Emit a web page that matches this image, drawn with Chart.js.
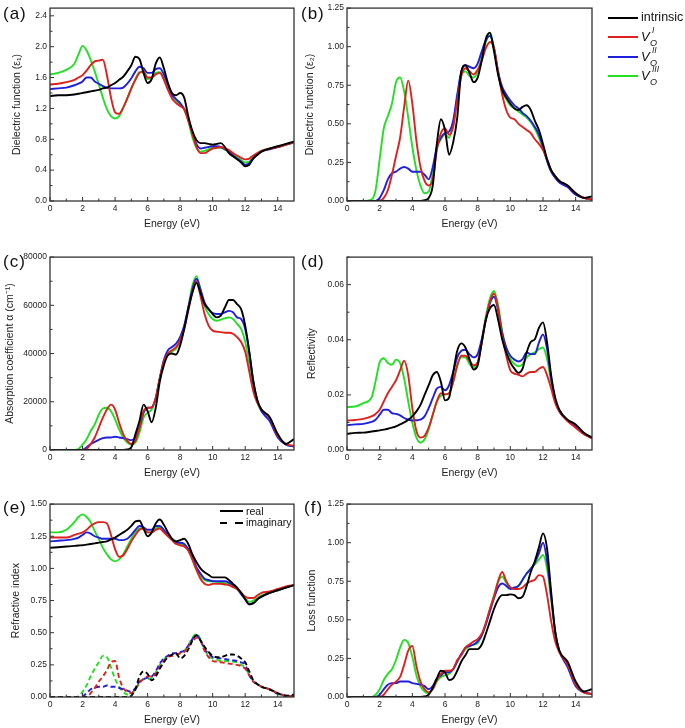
<!DOCTYPE html>
<html>
<head>
<meta charset="utf-8">
<script src="https://cdn.jsdelivr.net/npm/chart.js@4.4.1/dist/chart.umd.min.js"></script>
<style>
  body { margin: 0; background: #fff; font-family: "Liberation Sans", Arial, sans-serif; }
  #wrap { position: relative; width: 685px; height: 728px; overflow: hidden; }
  .pnl { position: absolute; width: 300px; height: 230px; }
  .tag { position: absolute; font-size: 17px; line-height: 20px; color: #111; letter-spacing: 1px; }
  .row { position: absolute; height: 0; }
  .row .ln { position: absolute; left: 0; top: -1px; width: 30px; height: 2px; }
  .row span { position: absolute; line-height: 1; color: #111; white-space: nowrap; }
  .v { font-size: 13px; font-style: italic; }
  .sb { font-size: 9px; font-style: italic; }
  .sp { font-size: 8.5px; font-style: italic; }
</style>
</head>
<body>
<div id="wrap">
  <div class="pnl" style="left:0;top:0"><canvas id="cA" width="300" height="230"></canvas></div>
  <div class="pnl" style="left:300px;top:0"><canvas id="cB" width="300" height="230"></canvas></div>
  <div class="pnl" style="left:0;top:249px"><canvas id="cC" width="300" height="230"></canvas></div>
  <div class="pnl" style="left:300px;top:249px"><canvas id="cD" width="300" height="230"></canvas></div>
  <div class="pnl" style="left:0;top:496px"><canvas id="cE" width="300" height="230"></canvas></div>
  <div class="pnl" style="left:300px;top:496px"><canvas id="cF" width="300" height="230"></canvas></div>

  <div class="tag" style="left:3px;top:4px">(a)</div>
  <div class="tag" style="left:301px;top:4px">(b)</div>
  <div class="tag" style="left:3px;top:252px">(c)</div>
  <div class="tag" style="left:301px;top:252px">(d)</div>
  <div class="tag" style="left:3px;top:498px">(e)</div>
  <div class="tag" style="left:304px;top:498px">(f)</div>

  <!-- legend of the four structures -->
  <div class="row" style="left:608px;top:18px">
    <div class="ln" style="background:#000"></div>
    <span style="left:33px;top:-6.6px;font-size:12.5px">intrinsic</span>
  </div>
  <div class="row" style="left:608px;top:37px">
    <div class="ln" style="background:#e0201c"></div>
    <span class="v" style="left:33px;top:-6.8px">V</span>
    <span class="sp" style="left:44px;top:-11.2px">I</span>
    <span class="sb" style="left:42px;top:2.3px">O</span>
  </div>
  <div class="row" style="left:608px;top:57px">
    <div class="ln" style="background:#1f1fdc"></div>
    <span class="v" style="left:33px;top:-6.8px">V</span>
    <span class="sp" style="left:44px;top:-11.2px">II</span>
    <span class="sb" style="left:42px;top:2.3px">O</span>
  </div>
  <div class="row" style="left:608px;top:76px">
    <div class="ln" style="background:#22e022"></div>
    <span class="v" style="left:33px;top:-6.8px">V</span>
    <span class="sp" style="left:44px;top:-11.2px">III</span>
    <span class="sb" style="left:42px;top:2.3px">O</span>
  </div>

  <!-- legend of panel (e) -->
  <div class="row" style="left:220px;top:511px">
    <div class="ln" style="background:#000;width:23px"></div>
    <span style="left:26px;top:-5px;font-size:10.5px">real</span>
  </div>
  <div class="row" style="left:220px;top:523px">
    <div class="ln" style="background:#000;width:7px"></div>
    <div class="ln" style="background:#000;width:8px;left:15px"></div>
    <span style="left:26px;top:-6px;font-size:10.5px">imaginary</span>
  </div>
</div>

<script>
// energy grid (eV)
const energy = [0, 0.5, 1, 1.5,
  1.75, 2, 2.25, 2.5, 2.75, 3, 3.25, 3.5, 3.75, 4,
  4.25, 4.5, 4.75, 5, 5.25, 5.5, 5.75, 6, 6.25, 6.5,
  6.75, 7, 7.25, 7.5, 7.75, 8, 8.25, 8.5, 8.75, 9,
  9.25, 9.5, 9.75, 10, 10.25, 10.5, 10.75, 11, 11.25, 11.5,
  11.75, 12, 12.25, 12.5, 12.75,
  13, 13.5, 14, 14.5, 15];

const seriesNames = ["intrinsic", "VO I", "VO II", "VO III"];
const seriesColors = ["#000000", "#e0201c", "#1f1fdc", "#22e022"];

// (a) real part of dielectric function
const eps1Intrinsic = [1.36,1.37,1.37,1.38, 1.39,1.40,1.41,1.42,1.43,1.44,1.46,1.47,1.50,1.53, 1.57,1.61,1.68,1.76,1.87,1.84,1.66,1.53,1.58,1.78, 1.86,1.72,1.53,1.40,1.37,1.40,1.34,1.10,0.91,0.79, 0.75,0.75,0.74,0.73,0.74,0.75,0.70,0.62,0.58,0.54, 0.50,0.45,0.47,0.55,0.60, 0.64,0.68,0.71,0.74,0.77];
const eps1VoI = [1.51,1.52,1.54,1.57, 1.60,1.63,1.69,1.76,1.81,1.82,1.83,1.63,1.34,1.15, 1.13,1.21,1.33,1.46,1.57,1.66,1.68,1.60,1.60,1.64, 1.66,1.57,1.44,1.33,1.27,1.23,1.19,1.04,0.87,0.70, 0.62,0.62,0.65,0.68,0.69,0.70,0.68,0.66,0.62,0.59, 0.56,0.54,0.55,0.59,0.62, 0.65,0.68,0.70,0.73,0.76];
const eps1VoII = [1.45,1.46,1.47,1.50, 1.52,1.55,1.60,1.60,1.55,1.52,1.49,1.47,1.46,1.46, 1.46,1.47,1.52,1.59,1.68,1.74,1.72,1.66,1.66,1.71, 1.72,1.64,1.51,1.38,1.32,1.27,1.19,1.06,0.89,0.74, 0.68,0.69,0.70,0.71,0.71,0.70,0.67,0.64,0.59,0.55, 0.51,0.47,0.49,0.56,0.60, 0.64,0.67,0.70,0.73,0.76];
const eps1VoIII = [1.64,1.66,1.70,1.78, 1.90,2.01,1.95,1.83,1.68,1.51,1.34,1.19,1.10,1.07, 1.10,1.21,1.33,1.46,1.58,1.67,1.66,1.58,1.60,1.66, 1.67,1.59,1.46,1.36,1.30,1.25,1.19,1.04,0.83,0.69, 0.64,0.65,0.67,0.69,0.69,0.69,0.67,0.64,0.60,0.57, 0.53,0.50,0.51,0.57,0.61, 0.65,0.68,0.70,0.73,0.76];

// (b) imaginary part of dielectric function
const eps2Intrinsic = [0,0,0,0, 0,0,0,0,0,0,0,0,0,0, 0,0,0.005,0.02,0.10,0.37,0.53,0.46,0.30,0.38, 0.54,0.84,0.88,0.83,0.77,0.80,0.91,1.05,1.09,0.97, 0.82,0.72,0.67,0.63,0.60,0.59,0.61,0.62,0.59,0.52, 0.46,0.37,0.27,0.20,0.16, 0.13,0.10,0.05,0.02,0.03];
const eps2VoI = [0,0,0,0, 0,0,0.02,0.07,0.17,0.29,0.41,0.61,0.78,0.63, 0.39,0.22,0.13,0.10,0.14,0.33,0.44,0.47,0.43,0.48, 0.65,0.81,0.86,0.84,0.82,0.85,0.91,0.99,1.03,0.99, 0.84,0.69,0.59,0.54,0.53,0.50,0.48,0.46,0.44,0.40, 0.37,0.33,0.27,0.20,0.16, 0.13,0.10,0.05,0.02,0.01];
const eps2VoII = [0,0,0,0, 0,0.02,0.07,0.14,0.18,0.19,0.21,0.22,0.21,0.19, 0.19,0.19,0.17,0.14,0.22,0.35,0.41,0.44,0.45,0.52, 0.69,0.84,0.88,0.87,0.86,0.89,0.97,1.04,1.07,0.99, 0.84,0.74,0.69,0.65,0.62,0.60,0.57,0.55,0.52,0.48, 0.43,0.35,0.26,0.19,0.15, 0.12,0.09,0.04,0.02,0.01];
const eps2VoIII = [0,0,0,0.01, 0.07,0.27,0.47,0.55,0.63,0.77,0.80,0.71,0.54,0.35, 0.20,0.10,0.05,0.06,0.18,0.34,0.40,0.43,0.41,0.50, 0.67,0.82,0.84,0.81,0.80,0.84,0.93,1.03,1.09,0.99, 0.83,0.71,0.66,0.62,0.60,0.58,0.56,0.54,0.51,0.47, 0.41,0.34,0.26,0.19,0.16, 0.13,0.10,0.05,0.02,0.01];

// (c) absorption coefficient (cm^-1)
const absIntrinsic = [0,0,0,0, 0,0,0,0,0,0,0,0,0,0, 0,0,200,1100,6500,12000,18800,16100,11500,17500, 28400,35200,39300,40000,39600,43400,50200,58400,65200,69300, 65200,60500,58400,56400,55000,55700,59100,62200,62200,60500, 58400,51600,40700,28400,20500, 16800,13700,6600,2500,4500];
const absVoI = [0,0,0,0, 0,0,400,2500,5200,9300,13400,16800,18800,16800, 11300,6600,3800,2500,3800,9300,16100,17500,17700,21600, 29800,36600,40000,41400,42700,45500,50200,57700,65200,70000, 63900,56400,51600,49500,49100,48900,48600,48600,48200,46800, 44800,40700,32500,24300,19500, 16800,13400,5900,2500,1800];
const absVoII = [0,0,0,0, 0,0,1100,2500,3400,4200,4900,5200,5200,5500, 5200,4900,4500,4100,5200,9300,15400,17500,17700,21600, 29800,37300,41400,42700,44100,46800,51600,59100,66600,71000, 66600,61200,58400,56800,56400,56400,57100,57700,57100,55000, 54300,50200,40700,28400,20500, 16100,12000,5200,2200,1400];
const absVoIII = [0,0,0,0, 400,2200,4500,7900,10600,14700,17200,17500,16100,12700, 8600,5200,3100,2200,3100,7200,13400,15400,16800,21600, 29800,36600,39600,40900,42000,45500,50900,59100,68000,72100, 66600,59800,56400,54300,53600,54100,54600,55000,54300,52300, 50200,44800,35900,25700,19500, 16100,13400,5900,2500,1400];

// (d) reflectivity
const refIntrinsic = [0.0059,0.0062,0.0063,0.0067, 0.0069,0.0071,0.0074,0.0077,0.0081,0.0086,0.0093,0.0100,0.0110,0.0122, 0.0140,0.0164,0.0200,0.0235,0.0271,0.0283,0.0247,0.0180,0.0190,0.0280, 0.0360,0.0387,0.0372,0.0330,0.0292,0.0307,0.0390,0.0473,0.0514,0.0526, 0.0473,0.0402,0.0354,0.0318,0.0295,0.0280,0.0295,0.0354,0.0392,0.0402, 0.0443,0.0463,0.0390,0.0271,0.0190, 0.0146,0.0110,0.0093,0.0063,0.0045];
const refVoI = [0.0107,0.0109,0.0113,0.0122, 0.0131,0.0146,0.0176,0.0206,0.0229,0.0253,0.0289,0.0324,0.0271,0.0152, 0.0069,0.0045,0.0051,0.0081,0.0128,0.0176,0.0206,0.0202,0.0206,0.0247, 0.0307,0.0342,0.0342,0.0324,0.0307,0.0318,0.0390,0.0473,0.0538,0.0568, 0.0514,0.0413,0.0342,0.0289,0.0277,0.0273,0.0267,0.0277,0.0283,0.0283, 0.0295,0.0301,0.0271,0.0223,0.0170, 0.0140,0.0105,0.0081,0.0057,0.0042];
const refVoII = [0.0090,0.0093,0.0095,0.0102, 0.0110,0.0128,0.0146,0.0146,0.0134,0.0131,0.0126,0.0116,0.0110,0.0107, 0.0108,0.0110,0.0122,0.0152,0.0188,0.0223,0.0229,0.0217,0.0235,0.0283, 0.0336,0.0360,0.0364,0.0348,0.0336,0.0348,0.0402,0.0473,0.0532,0.0556, 0.0508,0.0425,0.0372,0.0342,0.0328,0.0321,0.0330,0.0354,0.0348,0.0348, 0.0390,0.0419,0.0366,0.0259,0.0180, 0.0140,0.0107,0.0087,0.0059,0.0045];
const refVoIII = [0.0156,0.0158,0.0170,0.0190, 0.0250,0.0318,0.0333,0.0316,0.0309,0.0328,0.0316,0.0259,0.0176,0.0099, 0.0045,0.0027,0.0039,0.0075,0.0128,0.0176,0.0197,0.0202,0.0206,0.0247, 0.0307,0.0336,0.0336,0.0312,0.0301,0.0318,0.0396,0.0485,0.0550,0.0577, 0.0526,0.0431,0.0366,0.0330,0.0312,0.0304,0.0312,0.0336,0.0348,0.0354, 0.0366,0.0372,0.0330,0.0247,0.0180, 0.0140,0.0110,0.0089,0.0061,0.0045];

// (e) refractive index, real part n
const nIntrinsic = [1.16,1.165,1.17,1.175, 1.178,1.18,1.185,1.19,1.195,1.20,1.205,1.21,1.225,1.24, 1.26,1.28,1.30,1.33,1.365,1.37,1.31,1.25,1.28,1.35, 1.38,1.34,1.28,1.23,1.21,1.22,1.23,1.19,1.11,1.05, 1.00,0.97,0.95,0.93,0.93,0.93,0.93,0.91,0.88,0.85, 0.81,0.76,0.72,0.73,0.76, 0.78,0.81,0.83,0.85,0.87];
const nVoI = [1.24,1.24,1.24,1.26, 1.27,1.28,1.30,1.33,1.35,1.36,1.36,1.35,1.26,1.15, 1.09,1.10,1.15,1.21,1.26,1.30,1.31,1.28,1.28,1.30, 1.31,1.28,1.25,1.22,1.19,1.18,1.17,1.14,1.07,0.99, 0.92,0.88,0.87,0.88,0.88,0.88,0.875,0.87,0.855,0.84, 0.81,0.78,0.77,0.77,0.79, 0.81,0.82,0.84,0.86,0.87];
const nVoII = [1.21,1.215,1.22,1.23, 1.24,1.26,1.28,1.27,1.25,1.24,1.23,1.23,1.23,1.23, 1.22,1.22,1.23,1.26,1.30,1.33,1.32,1.30,1.30,1.33, 1.33,1.30,1.26,1.23,1.20,1.20,1.19,1.15,1.09,1.01, 0.96,0.92,0.91,0.90,0.90,0.90,0.90,0.89,0.87,0.84, 0.80,0.76,0.72,0.73,0.76, 0.78,0.81,0.83,0.85,0.87];
const nVoIII = [1.28,1.28,1.30,1.36, 1.40,1.42,1.40,1.36,1.29,1.23,1.16,1.11,1.07,1.055, 1.07,1.11,1.17,1.23,1.28,1.31,1.31,1.28,1.28,1.31, 1.32,1.29,1.26,1.23,1.21,1.19,1.18,1.14,1.07,0.99, 0.94,0.91,0.90,0.90,0.895,0.89,0.885,0.88,0.86,0.84, 0.81,0.77,0.74,0.75,0.77, 0.79,0.81,0.83,0.85,0.87];

// (e) refractive index, imaginary part k
const kIntrinsic = [0,0,0,0, 0,0,0,0,0,0,0,0,0,0, 0,0,0,0.01,0.06,0.16,0.20,0.18,0.13,0.16, 0.22,0.27,0.31,0.33,0.34,0.30,0.32,0.37,0.44,0.48, 0.44,0.39,0.35,0.32,0.31,0.31,0.32,0.33,0.33,0.32, 0.30,0.27,0.20,0.13,0.10, 0.08,0.06,0.03,0.01,0.02];
const kVoI = [0,0,0,0, 0,0,0,0.03,0.07,0.12,0.16,0.21,0.27,0.28, 0.15,0.07,0.04,0.03,0.06,0.11,0.14,0.16,0.16,0.18, 0.23,0.28,0.31,0.32,0.33,0.34,0.35,0.39,0.43,0.46, 0.44,0.36,0.31,0.28,0.275,0.27,0.265,0.26,0.255,0.25, 0.24,0.22,0.17,0.12,0.10, 0.08,0.06,0.03,0.01,0.005];
const kVoII = [0,0,0,0, 0,0.005,0.03,0.06,0.07,0.08,0.08,0.09,0.08,0.08, 0.07,0.06,0.05,0.04,0.07,0.12,0.14,0.15,0.16,0.20, 0.26,0.30,0.32,0.34,0.34,0.35,0.36,0.40,0.45,0.48, 0.44,0.37,0.34,0.31,0.305,0.30,0.295,0.29,0.285,0.28, 0.27,0.25,0.17,0.12,0.10, 0.08,0.06,0.025,0.01,0.005];
const kVoIII = [0,0,0,0, 0.005,0.04,0.09,0.16,0.22,0.27,0.32,0.31,0.23,0.14, 0.08,0.04,0.02,0.025,0.06,0.11,0.14,0.14,0.15,0.19, 0.25,0.29,0.32,0.32,0.33,0.34,0.36,0.40,0.46,0.49, 0.45,0.37,0.32,0.30,0.29,0.28,0.28,0.28,0.275,0.27, 0.25,0.23,0.17,0.12,0.10, 0.08,0.06,0.025,0.01,0.005];

// (f) energy loss function
const lossIntrinsic = [0,0,0,0, 0,0,0,0,0,0,0,0,0,0, 0,0,0.003,0.015,0.06,0.12,0.17,0.16,0.11,0.12, 0.17,0.23,0.27,0.31,0.31,0.31,0.34,0.41,0.49,0.57, 0.63,0.66,0.66,0.665,0.66,0.64,0.65,0.72,0.81,0.88, 0.97,1.06,0.96,0.68,0.42, 0.30,0.23,0.10,0.036,0.05];
const lossVoI = [0,0,0,0, 0,0,0.015,0.05,0.08,0.10,0.13,0.21,0.30,0.33, 0.20,0.10,0.05,0.03,0.05,0.11,0.15,0.17,0.17,0.18, 0.24,0.27,0.32,0.34,0.36,0.375,0.41,0.48,0.57,0.65, 0.75,0.81,0.75,0.71,0.70,0.70,0.71,0.735,0.75,0.76, 0.79,0.78,0.66,0.49,0.36, 0.29,0.21,0.08,0.03,0.02];
const lossVoII = [0,0,0,0, 0,0.015,0.05,0.08,0.09,0.09,0.10,0.10,0.10,0.09, 0.085,0.08,0.07,0.05,0.07,0.12,0.14,0.16,0.16,0.18, 0.23,0.28,0.32,0.33,0.34,0.36,0.40,0.47,0.555,0.64, 0.71,0.735,0.72,0.70,0.71,0.72,0.76,0.80,0.83,0.87, 0.93,1.00,0.88,0.65,0.42, 0.30,0.195,0.07,0.03,0.02];
const lossVoIII = [0,0,0,0, 0.015,0.05,0.11,0.15,0.18,0.24,0.32,0.37,0.35,0.26, 0.14,0.07,0.036,0.025,0.05,0.10,0.13,0.14,0.15,0.18, 0.23,0.275,0.31,0.33,0.34,0.35,0.40,0.475,0.57,0.66, 0.745,0.78,0.74,0.71,0.70,0.72,0.76,0.80,0.83,0.86, 0.89,0.92,0.83,0.63,0.42, 0.30,0.21,0.08,0.03,0.02];

// tick labels
const energyTicks = [0, 2, 4, 6, 8, 10, 12, 14];
const energyMinor = [1, 3, 5, 7, 9, 11, 13];
const eps1Ticks = [0, 0.4, 0.8, 1.2, 1.6, 2.0, 2.4];
const eps2Ticks = [0, 0.25, 0.5, 0.75, 1.0, 1.25];
const absTicks = [0, 20000, 40000, 60000, 80000];
const refTicks = [0, 0.02, 0.04, 0.06];
const nTicks = [0, 0.25, 0.5, 0.75, 1.0, 1.25, 1.5];
const lossTicks = [0, 0.25, 0.5, 0.75, 1.0, 1.25];

Chart.defaults.font.family = "'Liberation Sans', Arial, sans-serif";
Chart.defaults.color = "#222";

// frame around the plot with inward ticks
const frameTicks = {
  id: "frameTicks",
  afterDatasetsDraw(chart, args, o) {
    const { ctx, chartArea: a } = chart;
    const x = chart.scales.x, y = chart.scales.y;
    ctx.save();
    ctx.strokeStyle = "#333";
    ctx.lineWidth = 1;
    ctx.beginPath();
    energyTicks.forEach(v => { const p = x.getPixelForValue(v); ctx.moveTo(p, a.bottom); ctx.lineTo(p, a.bottom - 4); });
    energyMinor.forEach(v => { const p = x.getPixelForValue(v); ctx.moveTo(p, a.bottom); ctx.lineTo(p, a.bottom - 2.5); });
    o.major.forEach(v => { const p = y.getPixelForValue(v); ctx.moveTo(a.left, p); ctx.lineTo(a.left + 4, p); });
    o.major.forEach(v => {
      const m = v + o.step / 2;
      if (m < y.max) { const p = y.getPixelForValue(m); ctx.moveTo(a.left, p); ctx.lineTo(a.left + 2.5, p); }
    });
    ctx.stroke();
    ctx.lineWidth = 1.3;
    ctx.strokeRect(a.left, a.top, a.right - a.left, a.bottom - a.top);
    ctx.restore();
  }
};

function makePanel(id, sets, opt) {
  const datasets = sets.map(s => ({
    label: s.name,
    data: energy.map((e, k) => ({ x: e, y: s.values[k] })),
    borderColor: s.color,
    borderWidth: 1.9,
    borderDash: s.dash || [],
    pointRadius: 0,
    cubicInterpolationMode: "monotone",
    fill: false
  }));
  new Chart(document.getElementById(id), {
    type: "line",
    data: { datasets },
    options: {
      responsive: false,
      animation: false,
      events: [],
      layout: { padding: { top: 5, right: opt.right, left: 0, bottom: 0 } },
      plugins: {
        legend: { display: false },
        tooltip: { enabled: false },
        frameTicks: { major: opt.ticks, step: opt.ticks[1] - opt.ticks[0] }
      },
      scales: {
        x: {
          type: "linear", min: 0, max: 15,
          grid: { display: false, drawTicks: false },
          border: { display: false },
          afterBuildTicks: s => { s.ticks = energyTicks.map(v => ({ value: v })); },
          afterFit: s => { s.height = 29; },
          ticks: { padding: 3, font: { size: 8.5 }, color: "#222", maxRotation: 0, callback: v => String(v) },
          title: { display: true, text: "Energy (eV)", font: { size: 10.5 }, color: "#222", padding: { top: 0, bottom: 0 } }
        },
        y: {
          type: "linear", min: opt.min, max: opt.max,
          grid: { display: false, drawTicks: false },
          border: { display: false },
          afterBuildTicks: s => { s.ticks = opt.ticks.map(v => ({ value: v })); },
          afterFit: s => { s.width = opt.yw; },
          ticks: { padding: 3, font: { size: 8.5 }, color: "#222", callback: v => opt.fmt(v) },
          title: { display: true, text: opt.title, font: { size: 10.5 }, color: "#222", padding: { top: opt.tpad, bottom: 0 } }
        }
      }
    },
    plugins: [frameTicks]
  });
}

function four(list, dash) {
  return list.map((vals, i) => ({ name: seriesNames[i], color: seriesColors[i], values: vals, dash }));
}

makePanel("cA", four([eps1Intrinsic, eps1VoI, eps1VoII, eps1VoIII]),
  { min: 0, max: 2.5, ticks: eps1Ticks, fmt: v => v.toFixed(1), yw: 50, right: 6, tpad: 11, title: "Dielectric function (\u03b5\u2081)" });
makePanel("cB", four([eps2Intrinsic, eps2VoI, eps2VoII, eps2VoIII]),
  { min: 0, max: 1.25, ticks: eps2Ticks, fmt: v => v.toFixed(2), yw: 47, right: 8, tpad: 4, title: "Dielectric function (\u03b5\u2082)" });
makePanel("cC", four([absIntrinsic, absVoI, absVoII, absVoIII]),
  { min: 0, max: 80000, ticks: absTicks, fmt: v => String(v), yw: 50, right: 6, tpad: 4, title: "Absorption coefficient \u03b1 (cm\u207b\u00b9)" });
makePanel("cD", four([refIntrinsic, refVoI, refVoII, refVoIII]),
  { min: 0, max: 0.07, ticks: refTicks, fmt: v => v.toFixed(2), yw: 47, right: 8, tpad: 6, title: "Reflectivity" });
makePanel("cE", four([nIntrinsic, nVoI, nVoII, nVoIII]).concat(four([kIntrinsic, kVoI, kVoII, kVoIII], [5, 3])),
  { min: 0, max: 1.5, ticks: nTicks, fmt: v => v.toFixed(2), yw: 50, right: 6, tpad: 10, title: "Refractive index" });
makePanel("cF", four([lossIntrinsic, lossVoI, lossVoII, lossVoIII]),
  { min: 0, max: 1.25, ticks: lossTicks, fmt: v => v.toFixed(2), yw: 47, right: 8, tpad: 6, title: "Loss function" });
</script>
</body>
</html>
